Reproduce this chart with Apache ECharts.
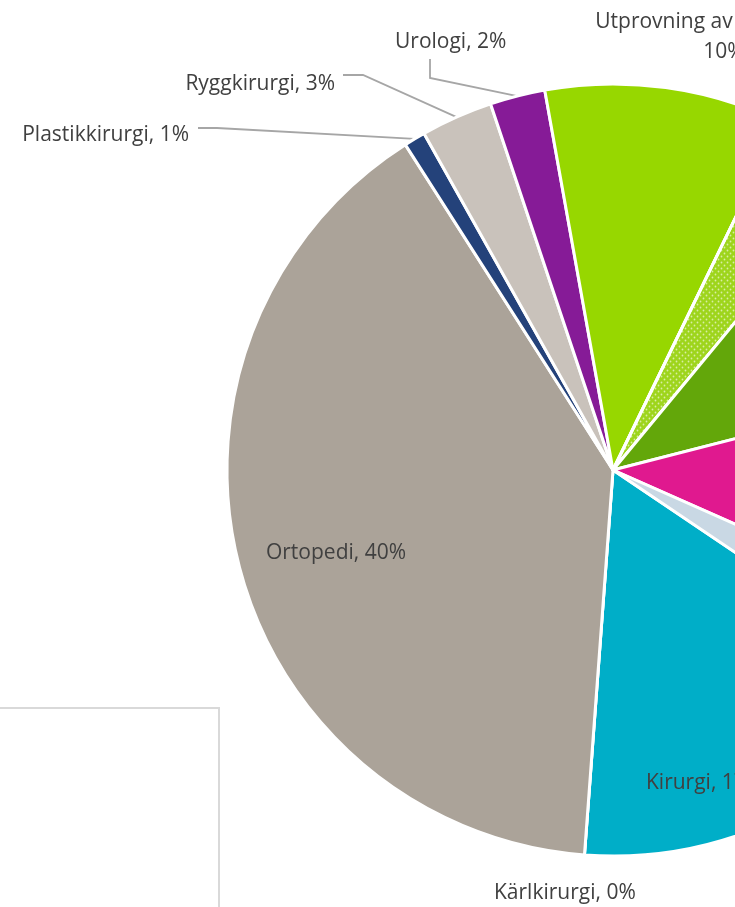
<!DOCTYPE html>
<html>
<head>
<meta charset="utf-8">
<script src="https://cdn.jsdelivr.net/npm/echarts@6/dist/echarts.min.js"></script>
<style>
  html, body { margin: 0; padding: 0; background: #ffffff; }
  #chart { width: 735px; height: 907px; }
</style>
</head>
<body>
<div id="chart"></div>
<script>
// Share of cases per specialty (percent)
const categories = [
  'Kirurgi', 'Kärlkirurgi', 'Ortopedi', 'Plastikkirurgi', 'Ryggkirurgi', 'Urologi',
  'Utprovning av hjälpmedel', 'Ögonsjukvård', 'Öron-näsa-hals', 'Övrig kirurgi', 'Övrigt'
];
const shares = [16.7, 0, 39.7, 0.9, 3.0, 2.3, 10.0, 3.8, 10.0, 10.6, 2.8];
const sliceColors = [
  '#00aec8', '#7f7f7f', '#aba399', '#24427a', '#c9c2bb', '#861b97',
  '#97d700', '#9ed51c', '#63a70a', '#e0198f', '#c9d8e4'
];
// Slices whose labels are drawn on the visible part of the canvas
const labelledSlices = ['Kirurgi', 'Kärlkirurgi', 'Ortopedi', 'Plastikkirurgi', 'Ryggkirurgi', 'Urologi', 'Utprovning av hjälpmedel'];
const dottedSlices = ['Ögonsjukvård'];

// Where each label sits, and the bend points of its leader line (label side first)
const labelPlacement = {
  'Kirurgi':                  { x: 646, y: 783, align: 'left' },
  'Kärlkirurgi':              { x: 494, y: 893, align: 'left' },
  'Ortopedi':                 { x: 336, y: 553, align: 'center' },
  'Plastikkirurgi':           { x: 189, y: 135, align: 'right', bend: [[217, 128], [198, 128]] },
  'Ryggkirurgi':              { x: 335, y: 84,  align: 'right', bend: [[363, 75], [343, 75]] },
  'Urologi':                  { x: 395, y: 42,  align: 'left',  bend: [[430, 78], [430, 59]] },
  'Utprovning av hjälpmedel': { x: 724, y: 37,  align: 'center', lineHeight: 30 }
};

const chart = echarts.init(document.getElementById('chart'), null, { renderer: 'canvas' });

const pieData = categories.map((name, i) => {
  const place = labelPlacement[name];
  const item = {
    name: name,
    value: shares[i],
    itemStyle: { color: sliceColors[i] },
    label: { show: labelledSlices.includes(name) },
    labelLine: { show: !!(place && place.bend) }
  };
  if (place && place.lineHeight) item.label.lineHeight = place.lineHeight;
  if (dottedSlices.includes(name)) {
    item.itemStyle.decal = {
      symbol: 'circle',
      symbolSize: 0.6,
      color: 'rgba(255,255,255,0.6)',
      dashArrayX: [[3, 3], [0, 3, 3, 0]],
      dashArrayY: [3, 0],
      rotation: 0
    };
  }
  return item;
});

chart.setOption({
  backgroundColor: '#ffffff',
  animation: false,
  graphic: [{
    type: 'polyline',
    shape: { points: [[-4, 708], [219, 708], [219, 912]] },
    style: { stroke: '#d9d9d9', lineWidth: 2, fill: null },
    silent: true
  }],
  series: [{
    type: 'pie',
    center: [613, 470],
    radius: 386,
    startAngle: 326,
    clockwise: true,
    avoidLabelOverlap: false,
    emphasis: { disabled: true },
    itemStyle: { borderColor: '#ffffff', borderWidth: 3 },
    label: {
      position: 'outside',
      fontFamily: 'Open Sans',
      fontSize: 21,
      color: '#404040',
      formatter: (p) => {
        const sep = p.name.length > 20 ? ',\n' : ', ';
        return p.name + sep + Math.round(p.value) + '%';
      }
    },
    labelLine: {
      length: 20,
      length2: 20,
      smooth: false,
      lineStyle: { color: '#a6a6a6', width: 1.8 }
    },
    labelLayout: (params) => {
      const name = categories[params.dataIndex];
      const place = labelPlacement[name];
      if (!place) return {};
      const out = { x: place.x, y: place.y, align: place.align, verticalAlign: 'middle' };
      if (place.bend && params.labelLinePoints) {
        out.labelLinePoints = [params.labelLinePoints[0], place.bend[0], place.bend[1]];
      }
      return out;
    },
    data: pieData
  }]
});
</script>
</body>
</html>
